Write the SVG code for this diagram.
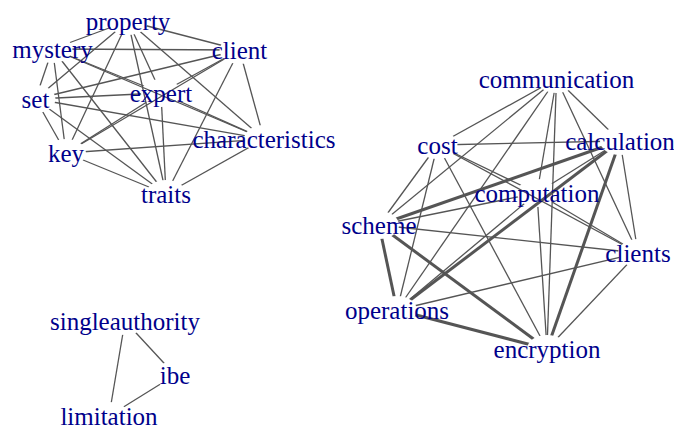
<svg xmlns="http://www.w3.org/2000/svg" width="674" height="430" viewBox="0 0 674 430">
<style>
.e{stroke:#555;stroke-width:1.3;fill:none}
.t{stroke:#555;stroke-width:3;fill:none}
.lbl{font-family:"Liberation Serif","Times New Roman",serif;font-size:25px;fill:#00008b;text-anchor:middle}
</style>
<defs>
<mask id="mP" maskUnits="userSpaceOnUse" x="0" y="0" width="674" height="430"><rect width="674" height="430" fill="#fff"/><ellipse cx="128" cy="21" rx="20" ry="14"/></mask>
<mask id="mM" maskUnits="userSpaceOnUse" x="0" y="0" width="674" height="430"><rect width="674" height="430" fill="#fff"/><ellipse cx="52.5" cy="49" rx="20" ry="14"/></mask>
<mask id="mC" maskUnits="userSpaceOnUse" x="0" y="0" width="674" height="430"><rect width="674" height="430" fill="#fff"/><ellipse cx="239.5" cy="50" rx="20" ry="14"/></mask>
<mask id="mS" maskUnits="userSpaceOnUse" x="0" y="0" width="674" height="430"><rect width="674" height="430" fill="#fff"/><ellipse cx="35.5" cy="99" rx="20" ry="14"/></mask>
<mask id="mE" maskUnits="userSpaceOnUse" x="0" y="0" width="674" height="430"><rect width="674" height="430" fill="#fff"/><ellipse cx="161" cy="93" rx="20" ry="14"/></mask>
<mask id="mCh" maskUnits="userSpaceOnUse" x="0" y="0" width="674" height="430"><rect width="674" height="430" fill="#fff"/><ellipse cx="264" cy="139" rx="20" ry="14"/></mask>
<mask id="mK" maskUnits="userSpaceOnUse" x="0" y="0" width="674" height="430"><rect width="674" height="430" fill="#fff"/><ellipse cx="66" cy="153" rx="20" ry="14"/></mask>
<mask id="mT" maskUnits="userSpaceOnUse" x="0" y="0" width="674" height="430"><rect width="674" height="430" fill="#fff"/><ellipse cx="166" cy="194" rx="20" ry="14"/></mask>
<mask id="mCm" maskUnits="userSpaceOnUse" x="0" y="0" width="674" height="430"><rect width="674" height="430" fill="#fff"/><ellipse cx="556.5" cy="79" rx="20" ry="14"/></mask>
<mask id="mCo" maskUnits="userSpaceOnUse" x="0" y="0" width="674" height="430"><rect width="674" height="430" fill="#fff"/><ellipse cx="437.5" cy="145" rx="20" ry="14"/></mask>
<mask id="mCa" maskUnits="userSpaceOnUse" x="0" y="0" width="674" height="430"><rect width="674" height="430" fill="#fff"/><ellipse cx="620" cy="141" rx="20" ry="14"/></mask>
<mask id="mCp" maskUnits="userSpaceOnUse" x="0" y="0" width="674" height="430"><rect width="674" height="430" fill="#fff"/><ellipse cx="537" cy="193" rx="20" ry="14"/></mask>
<mask id="mSc" maskUnits="userSpaceOnUse" x="0" y="0" width="674" height="430"><rect width="674" height="430" fill="#fff"/><ellipse cx="379" cy="225" rx="20" ry="14"/></mask>
<mask id="mCl" maskUnits="userSpaceOnUse" x="0" y="0" width="674" height="430"><rect width="674" height="430" fill="#fff"/><ellipse cx="638" cy="253" rx="20" ry="14"/></mask>
<mask id="mOp" maskUnits="userSpaceOnUse" x="0" y="0" width="674" height="430"><rect width="674" height="430" fill="#fff"/><ellipse cx="397" cy="310" rx="20" ry="14"/></mask>
<mask id="mEn" maskUnits="userSpaceOnUse" x="0" y="0" width="674" height="430"><rect width="674" height="430" fill="#fff"/><ellipse cx="547" cy="349" rx="20" ry="14"/></mask>
<mask id="mSA" maskUnits="userSpaceOnUse" x="0" y="0" width="674" height="430"><rect width="674" height="430" fill="#fff"/><ellipse cx="125" cy="321" rx="20" ry="14"/></mask>
<mask id="mI" maskUnits="userSpaceOnUse" x="0" y="0" width="674" height="430"><rect width="674" height="430" fill="#fff"/><ellipse cx="175" cy="375" rx="20" ry="14"/></mask>
<mask id="mL" maskUnits="userSpaceOnUse" x="0" y="0" width="674" height="430"><rect width="674" height="430" fill="#fff"/><ellipse cx="109" cy="416" rx="20" ry="14"/></mask>
</defs>
<g id="connectors">
<g mask="url(#mP)">
<line class="e" x1="128" y1="21" x2="52.5" y2="49" mask="url(#mM)"/>
<line class="e" x1="128" y1="21" x2="239.5" y2="50" mask="url(#mC)"/>
<line class="e" x1="128" y1="21" x2="35.5" y2="99" mask="url(#mS)"/>
<line class="e" x1="128" y1="21" x2="161" y2="93" mask="url(#mE)"/>
<line class="e" x1="128" y1="21" x2="264" y2="139" mask="url(#mCh)"/>
<line class="e" x1="128" y1="21" x2="66" y2="153" mask="url(#mK)"/>
<line class="e" x1="128" y1="21" x2="166" y2="194" mask="url(#mT)"/>
</g>
<g mask="url(#mM)">
<line class="e" x1="52.5" y1="49" x2="239.5" y2="50" mask="url(#mC)"/>
<line class="e" x1="52.5" y1="49" x2="35.5" y2="99" mask="url(#mS)"/>
<line class="e" x1="52.5" y1="49" x2="161" y2="93" mask="url(#mE)"/>
<line class="e" x1="52.5" y1="49" x2="264" y2="139" mask="url(#mCh)"/>
<line class="e" x1="52.5" y1="49" x2="66" y2="153" mask="url(#mK)"/>
<line class="e" x1="52.5" y1="49" x2="166" y2="194" mask="url(#mT)"/>
</g>
<g mask="url(#mC)">
<line class="e" x1="239.5" y1="50" x2="35.5" y2="99" mask="url(#mS)"/>
<line class="e" x1="239.5" y1="50" x2="161" y2="93" mask="url(#mE)"/>
<line class="e" x1="239.5" y1="50" x2="264" y2="139" mask="url(#mCh)"/>
<line class="e" x1="239.5" y1="50" x2="66" y2="153" mask="url(#mK)"/>
<line class="e" x1="239.5" y1="50" x2="166" y2="194" mask="url(#mT)"/>
</g>
<g mask="url(#mS)">
<line class="e" x1="35.5" y1="99" x2="161" y2="93" mask="url(#mE)"/>
<line class="e" x1="35.5" y1="99" x2="264" y2="139" mask="url(#mCh)"/>
<line class="e" x1="35.5" y1="99" x2="66" y2="153" mask="url(#mK)"/>
<line class="e" x1="35.5" y1="99" x2="166" y2="194" mask="url(#mT)"/>
</g>
<g mask="url(#mE)">
<line class="e" x1="161" y1="93" x2="264" y2="139" mask="url(#mCh)"/>
<line class="e" x1="161" y1="93" x2="66" y2="153" mask="url(#mK)"/>
<line class="e" x1="161" y1="93" x2="166" y2="194" mask="url(#mT)"/>
</g>
<g mask="url(#mCh)">
<line class="e" x1="264" y1="139" x2="66" y2="153" mask="url(#mK)"/>
<line class="e" x1="264" y1="139" x2="166" y2="194" mask="url(#mT)"/>
</g>
<g mask="url(#mK)">
<line class="e" x1="66" y1="153" x2="166" y2="194" mask="url(#mT)"/>
</g>
<g mask="url(#mCm)">
<line class="e" x1="556.5" y1="79" x2="437.5" y2="145" mask="url(#mCo)"/>
<line class="e" x1="556.5" y1="79" x2="620" y2="141" mask="url(#mCa)"/>
<line class="e" x1="556.5" y1="79" x2="537" y2="193" mask="url(#mCp)"/>
<line class="e" x1="556.5" y1="79" x2="379" y2="225" mask="url(#mSc)"/>
<line class="e" x1="556.5" y1="79" x2="638" y2="253" mask="url(#mCl)"/>
<line class="e" x1="556.5" y1="79" x2="397" y2="310" mask="url(#mOp)"/>
<line class="e" x1="556.5" y1="79" x2="547" y2="349" mask="url(#mEn)"/>
</g>
<g mask="url(#mCo)">
<line class="e" x1="437.5" y1="145" x2="620" y2="141" mask="url(#mCa)"/>
<line class="e" x1="437.5" y1="145" x2="537" y2="193" mask="url(#mCp)"/>
<line class="e" x1="437.5" y1="145" x2="379" y2="225" mask="url(#mSc)"/>
<line class="e" x1="437.5" y1="145" x2="638" y2="253" mask="url(#mCl)"/>
<line class="e" x1="437.5" y1="145" x2="397" y2="310" mask="url(#mOp)"/>
<line class="e" x1="437.5" y1="145" x2="547" y2="349" mask="url(#mEn)"/>
</g>
<g mask="url(#mCa)">
<line class="e" x1="620" y1="141" x2="537" y2="193" mask="url(#mCp)"/>
<line class="t" x1="620" y1="141" x2="379" y2="225" mask="url(#mSc)"/>
<line class="e" x1="620" y1="141" x2="638" y2="253" mask="url(#mCl)"/>
<line class="t" x1="620" y1="141" x2="397" y2="310" mask="url(#mOp)"/>
<line class="t" x1="620" y1="141" x2="547" y2="349" mask="url(#mEn)"/>
</g>
<g mask="url(#mCp)">
<line class="e" x1="537" y1="193" x2="379" y2="225" mask="url(#mSc)"/>
<line class="e" x1="537" y1="193" x2="638" y2="253" mask="url(#mCl)"/>
<line class="e" x1="537" y1="193" x2="397" y2="310" mask="url(#mOp)"/>
<line class="e" x1="537" y1="193" x2="547" y2="349" mask="url(#mEn)"/>
</g>
<g mask="url(#mSc)">
<line class="e" x1="379" y1="225" x2="638" y2="253" mask="url(#mCl)"/>
<line class="t" x1="379" y1="225" x2="397" y2="310" mask="url(#mOp)"/>
<line class="t" x1="379" y1="225" x2="547" y2="349" mask="url(#mEn)"/>
</g>
<g mask="url(#mCl)">
<line class="e" x1="638" y1="253" x2="397" y2="310" mask="url(#mOp)"/>
<line class="e" x1="638" y1="253" x2="547" y2="349" mask="url(#mEn)"/>
</g>
<g mask="url(#mOp)">
<line class="t" x1="397" y1="310" x2="547" y2="349" mask="url(#mEn)"/>
</g>
<g mask="url(#mSA)">
<line class="e" x1="125" y1="321" x2="175" y2="375" mask="url(#mI)"/>
<line class="e" x1="125" y1="321" x2="109" y2="416" mask="url(#mL)"/>
</g>
<g mask="url(#mI)">
<line class="e" x1="175" y1="375" x2="109" y2="416" mask="url(#mL)"/>
</g>
</g>
<g id="n-property"><text class="lbl" x="128" y="30">property</text></g>
<g id="n-mystery"><text class="lbl" x="52.5" y="58">mystery</text></g>
<g id="n-client"><text class="lbl" x="239.5" y="59">client</text></g>
<g id="n-set"><text class="lbl" x="35.5" y="108">set</text></g>
<g id="n-expert"><text class="lbl" x="161" y="102">expert</text></g>
<g id="n-characteristics"><text class="lbl" x="264" y="148">characteristics</text></g>
<g id="n-key"><text class="lbl" x="66" y="162">key</text></g>
<g id="n-traits"><text class="lbl" x="166" y="203">traits</text></g>
<g id="n-communication"><text class="lbl" x="556.5" y="88">communication</text></g>
<g id="n-cost"><text class="lbl" x="437.5" y="154">cost</text></g>
<g id="n-calculation"><text class="lbl" x="620" y="150">calculation</text></g>
<g id="n-computation"><text class="lbl" x="537" y="202">computation</text></g>
<g id="n-scheme"><text class="lbl" x="379" y="234">scheme</text></g>
<g id="n-clients"><text class="lbl" x="638" y="262">clients</text></g>
<g id="n-operations"><text class="lbl" x="397" y="319">operations</text></g>
<g id="n-encryption"><text class="lbl" x="547" y="358">encryption</text></g>
<g id="n-singleauthority"><text class="lbl" x="125" y="330">singleauthority</text></g>
<g id="n-ibe"><text class="lbl" x="175" y="384">ibe</text></g>
<g id="n-limitation"><text class="lbl" x="109" y="425">limitation</text></g>
</svg>
